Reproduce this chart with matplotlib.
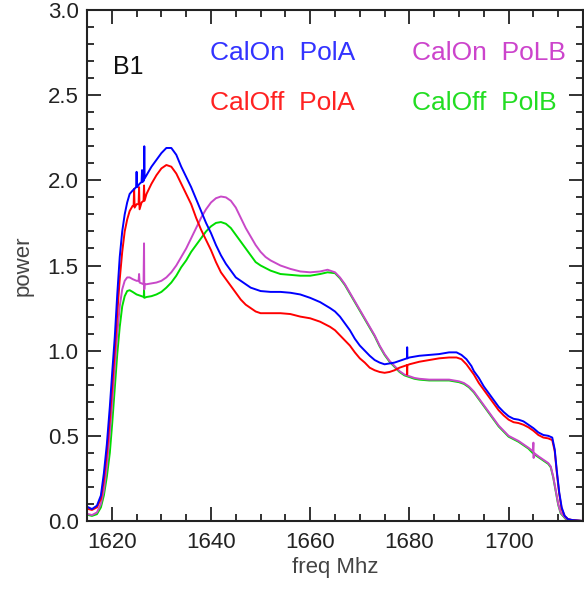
import matplotlib
matplotlib.use("Agg")
import matplotlib.pyplot as plt
from matplotlib.ticker import MultipleLocator

plt.rcParams['font.family'] = ['Liberation Sans', 'DejaVu Sans']

# CalOn PolA (blue)
f_on_a = [1615.3, 1616, 1617, 1617.8, 1618.4, 1619, 1619.6, 1620.1, 1620.6, 1621.1,
          1621.6, 1622.1, 1622.6, 1623.1, 1623.6, 1624.2, 1624.9, 1625.0, 1625.1, 1625.6,
          1626.0, 1626.1, 1626.2, 1626.5, 1626.55, 1626.6, 1627, 1628, 1629, 1630,
          1631, 1632, 1633, 1634, 1635, 1636, 1637, 1638, 1639, 1640,
          1641, 1642, 1643, 1644, 1645, 1646, 1647, 1648, 1650, 1652,
          1654, 1656, 1658, 1660, 1662, 1664, 1665, 1666, 1667, 1668,
          1669, 1670, 1671, 1672, 1673, 1674, 1675, 1676, 1677, 1678,
          1679, 1679.5, 1679.55, 1679.6, 1680, 1682, 1684, 1686, 1688, 1689.5,
          1690.5, 1691.5, 1692.5, 1693, 1694, 1695, 1696, 1697, 1698, 1699,
          1700, 1701, 1702, 1703, 1704, 1705, 1706, 1707, 1708, 1708.8,
          1709.3, 1709.7, 1710.2, 1710.7, 1711.3, 1712, 1713, 1715]
p_on_a = [0.08, 0.07, 0.09, 0.15, 0.28, 0.45, 0.67, 0.88, 1.08, 1.33,
          1.55, 1.70, 1.80, 1.87, 1.92, 1.94, 1.96, 2.05, 1.96, 1.98,
          1.99, 2.06, 1.99, 2.00, 2.20, 2.01, 2.03, 2.08, 2.12, 2.16,
          2.19, 2.19, 2.15, 2.08, 2.02, 1.96, 1.89, 1.82, 1.75, 1.69,
          1.62, 1.56, 1.51, 1.47, 1.43, 1.41, 1.39, 1.37, 1.35, 1.345,
          1.345, 1.34, 1.33, 1.31, 1.285, 1.25, 1.23, 1.20, 1.16, 1.12,
          1.07, 1.03, 1.00, 0.97, 0.945, 0.93, 0.92, 0.925, 0.93, 0.94,
          0.95, 0.955, 1.02, 0.955, 0.96, 0.97, 0.975, 0.98, 0.99, 0.99,
          0.975, 0.95, 0.91, 0.88, 0.84, 0.79, 0.75, 0.71, 0.67, 0.64,
          0.615, 0.60, 0.595, 0.585, 0.565, 0.545, 0.52, 0.505, 0.50, 0.49,
          0.42, 0.30, 0.17, 0.08, 0.03, 0.01, 0.005, 0.0]

# CalOff PolA (red)
f_off_a = [1615.3, 1616, 1617, 1617.8, 1618.4, 1619, 1619.6, 1620.1, 1620.6, 1621.1,
           1621.6, 1622.1, 1622.6, 1623.1, 1623.6, 1624.2, 1624.4, 1624.5, 1624.6, 1625.0,
           1625.4, 1625.5, 1625.6, 1626.0, 1626.4, 1626.5, 1626.6, 1627, 1628, 1629,
           1630, 1631, 1632, 1633, 1634, 1635, 1636, 1637, 1638, 1639,
           1640, 1641, 1642, 1643, 1644, 1645, 1646, 1647, 1648, 1649,
           1650, 1652, 1654, 1656, 1658, 1660, 1662, 1664, 1665, 1666,
           1667, 1668, 1669, 1670, 1671, 1672, 1673, 1674, 1675, 1676,
           1677, 1678, 1679, 1679.5, 1679.55, 1679.6, 1680, 1682, 1684, 1686,
           1688, 1689.5, 1690.5, 1691.5, 1692.5, 1693, 1694, 1695, 1696, 1697,
           1698, 1699, 1700, 1701, 1702, 1703, 1704, 1705, 1706, 1707,
           1708, 1708.8, 1709.3, 1709.7, 1710.2, 1710.7, 1711.3, 1712, 1713, 1715]
p_off_a = [0.07, 0.065, 0.08, 0.13, 0.24, 0.40, 0.60, 0.80, 1.00, 1.22,
           1.42, 1.58, 1.70, 1.77, 1.82, 1.85, 1.85, 1.95, 1.84, 1.86,
           1.86, 1.96, 1.83, 1.87, 1.88, 1.97, 1.88, 1.92, 1.98, 2.03,
           2.07, 2.09, 2.08, 2.04, 1.98, 1.92, 1.86, 1.78, 1.71, 1.65,
           1.59, 1.52, 1.46, 1.42, 1.38, 1.34, 1.30, 1.27, 1.25, 1.23,
           1.22, 1.22, 1.22, 1.215, 1.20, 1.19, 1.17, 1.14, 1.12, 1.09,
           1.06, 1.03, 0.99, 0.955, 0.93, 0.90, 0.885, 0.875, 0.87, 0.875,
           0.885, 0.90, 0.91, 0.915, 0.86, 0.915, 0.92, 0.935, 0.945, 0.955,
           0.96, 0.96, 0.95, 0.92, 0.88, 0.86, 0.81, 0.77, 0.73, 0.69,
           0.65, 0.62, 0.595, 0.58, 0.575, 0.565, 0.55, 0.53, 0.505, 0.49,
           0.485, 0.475, 0.41, 0.29, 0.16, 0.07, 0.03, 0.01, 0.005, 0.0]

# CalOn PoLB (magenta)
f_on_b = [1615.3, 1616, 1617, 1617.8, 1618.4, 1619, 1619.6, 1620.1, 1620.6, 1621.1,
          1621.6, 1622.1, 1622.6, 1623.1, 1623.6, 1624.2, 1625, 1625.4, 1625.5, 1625.6,
          1626.0, 1626.4, 1626.5, 1626.55, 1626.6, 1627, 1628, 1629, 1630, 1631,
          1632, 1633, 1634, 1635, 1636, 1637, 1638, 1639, 1640, 1641,
          1642, 1643, 1644, 1645, 1646, 1647, 1648, 1649, 1650, 1651,
          1652, 1654, 1656, 1658, 1660, 1662, 1663.5, 1665, 1666, 1667,
          1668, 1669, 1670, 1671, 1672, 1673, 1674, 1675, 1676, 1677,
          1678, 1679, 1680, 1681, 1682, 1684, 1686, 1688, 1690, 1691,
          1692, 1693, 1694, 1695, 1696, 1697, 1698, 1699, 1700, 1701,
          1702, 1703, 1704, 1704.9, 1705, 1705.05, 1705.1, 1706, 1707, 1708,
          1708.5, 1709, 1709.5, 1710, 1710.5, 1711.5, 1713, 1715]
p_on_b = [0.04, 0.035, 0.05, 0.10, 0.18, 0.32, 0.52, 0.70, 0.90, 1.10,
          1.26, 1.36, 1.41, 1.43, 1.43, 1.42, 1.41, 1.41, 1.45, 1.40,
          1.395, 1.39, 1.63, 1.36, 1.39, 1.39, 1.395, 1.40, 1.41, 1.43,
          1.46, 1.50, 1.55, 1.60, 1.66, 1.72, 1.78, 1.83, 1.87, 1.895,
          1.905, 1.90, 1.88, 1.84, 1.78, 1.72, 1.67, 1.62, 1.58, 1.55,
          1.53, 1.50, 1.48, 1.465, 1.46, 1.465, 1.475, 1.46, 1.43, 1.39,
          1.34, 1.29, 1.24, 1.19, 1.14, 1.09, 1.03, 0.98, 0.94, 0.91,
          0.88, 0.86, 0.85, 0.84, 0.835, 0.83, 0.83, 0.83, 0.82, 0.81,
          0.79, 0.76, 0.72, 0.68, 0.64, 0.60, 0.56, 0.53, 0.50, 0.485,
          0.47, 0.45, 0.43, 0.41, 0.46, 0.37, 0.40, 0.38, 0.36, 0.34,
          0.32, 0.26, 0.18, 0.10, 0.05, 0.015, 0.003, 0.0]

# CalOff PolB (green)
f_off_b = [1615.3, 1616, 1617, 1617.8, 1618.4, 1619, 1619.6, 1620.1, 1620.6, 1621.1,
           1621.6, 1622.1, 1622.6, 1623.1, 1623.6, 1624.2, 1625, 1626, 1626.45, 1626.5,
           1626.55, 1627, 1628, 1629, 1630, 1631, 1632, 1633, 1634, 1635,
           1636, 1637, 1638, 1639, 1640, 1641, 1642, 1643, 1644, 1645,
           1646, 1647, 1648, 1649, 1650, 1651, 1652, 1654, 1656, 1658,
           1660, 1662, 1663.5, 1665, 1666, 1667, 1668, 1669, 1670, 1671,
           1672, 1673, 1674, 1675, 1676, 1677, 1678, 1679, 1680, 1681,
           1682, 1684, 1686, 1688, 1690, 1691, 1692, 1693, 1694, 1695,
           1696, 1697, 1698, 1699, 1700, 1701, 1702, 1703, 1704, 1705,
           1706, 1707, 1708, 1708.5, 1709, 1709.5, 1710, 1710.5, 1711.5, 1713,
           1715]
p_off_b = [0.035, 0.03, 0.04, 0.08, 0.15, 0.26, 0.40, 0.58, 0.78, 0.98,
           1.14, 1.26, 1.32, 1.35, 1.355, 1.345, 1.33, 1.32, 1.315, 1.36,
           1.31, 1.315, 1.32, 1.33, 1.345, 1.37, 1.40, 1.44, 1.49, 1.53,
           1.58, 1.62, 1.66, 1.70, 1.73, 1.75, 1.755, 1.745, 1.72, 1.68,
           1.64, 1.60, 1.56, 1.52, 1.50, 1.485, 1.47, 1.45, 1.445, 1.44,
           1.44, 1.45, 1.46, 1.455, 1.425, 1.385, 1.335, 1.285, 1.235, 1.185,
           1.135, 1.085, 1.025, 0.975, 0.935, 0.905, 0.875, 0.855, 0.845, 0.835,
           0.83, 0.825, 0.825, 0.825, 0.815, 0.805, 0.785, 0.755, 0.715, 0.675,
           0.635, 0.595, 0.555, 0.525, 0.495, 0.48, 0.465, 0.445, 0.425, 0.395,
           0.375, 0.355, 0.335, 0.315, 0.255, 0.175, 0.095, 0.045, 0.012, 0.003,
           0.0]

fig = plt.figure(figsize=(5.84, 5.92), dpi=100)
ax = fig.add_axes([87/584, 71/592, 496/584, 511/592])

ax.plot(f_off_b, p_off_b, color='#00dd00', lw=1.4)
ax.plot(f_on_b, p_on_b, color='#c848c8', lw=1.4)
ax.plot(f_off_a, p_off_a, color='#ff0000', lw=1.4)
ax.plot(f_on_a, p_on_a, color='#0000ff', lw=1.4)

ax.set_xlim(1615, 1715)
ax.set_ylim(0, 3.0)
ax.xaxis.set_major_locator(MultipleLocator(20))
ax.xaxis.set_minor_locator(MultipleLocator(5))
ax.yaxis.set_major_locator(MultipleLocator(0.5))
ax.yaxis.set_minor_locator(MultipleLocator(0.1))
ax.yaxis.set_major_formatter(plt.FuncFormatter(lambda v, p: "%.1f" % v))
ax.tick_params(which='both', direction='in', top=True, right=True, width=1.3, color='#222222')
ax.tick_params(which='major', length=10, labelsize=16, labelcolor='#222222')
ax.tick_params(which='minor', length=5)
ax.tick_params(axis='x', pad=8)
ax.tick_params(axis='y', pad=6)
for s in ax.spines.values():
    s.set_linewidth(1.5)
    s.set_color('#222222')

ax.set_xlabel("freq Mhz", fontsize=16, color='#444444', labelpad=3)
ax.set_ylabel("power", fontsize=16, color='#444444', labelpad=10)

ax.text(1620.2, 2.665, "B1", fontsize=18, color='#111111', va='center', ha='left')
ax.text(1639.8, 2.75, "CalOn  PolA", fontsize=19, color='#3333ff', va='center', ha='left')
ax.text(1639.8, 2.455, "CalOff  PolA", fontsize=19, color='#ff2222', va='center', ha='left')
ax.text(1680.5, 2.75, "CalOn  PoLB", fontsize=19, color='#cc44cc', va='center', ha='left')
ax.text(1680.5, 2.455, "CalOff  PolB", fontsize=19, color='#22dd22', va='center', ha='left')

fig.savefig("out.png", dpi=100)
